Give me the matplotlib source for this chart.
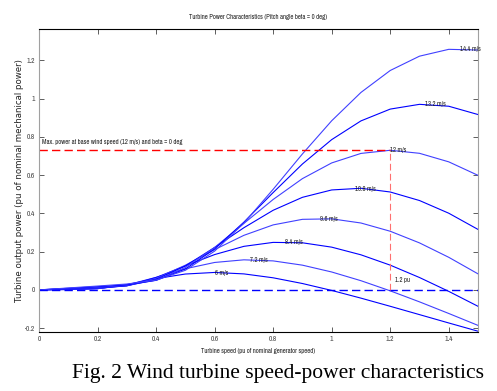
import matplotlib
matplotlib.use('Agg')
import matplotlib.pyplot as plt
from matplotlib import font_manager
import numpy as np

# turbine speed (pu of nominal generator speed)
speed = [0.0, 0.1, 0.2, 0.3, 0.4, 0.5, 0.6, 0.7, 0.8, 0.9, 1.0, 1.1, 1.2, 1.3, 1.4, 1.5]

# output power (pu) for each wind speed
p_6 = [0, 0.0017, 0.0064, 0.0277, 0.0591, 0.0830, 0.0913, 0.0837, 0.0633, 0.0334,
       -0.0028, -0.0431, -0.0857, -0.1293, -0.1730, -0.2161]
p_72 = [0, 0.0025, 0.0064, 0.0254, 0.0658, 0.1106, 0.1435, 0.1573, 0.1517, 0.1294,
        0.0937, 0.0481, -0.0049, -0.0625, -0.1233, -0.1857]
p_84 = [0, 0.0034, 0.0074, 0.0226, 0.0648, 0.1255, 0.1848, 0.2278, 0.2485, 0.2464,
        0.2236, 0.1835, 0.1295, 0.0648, -0.0077, -0.0858]
p_96 = [0, 0.0045, 0.0091, 0.0211, 0.0601, 0.1292, 0.2107, 0.2854, 0.3400, 0.3691,
        0.3717, 0.3499, 0.3068, 0.2459, 0.1705, 0.0839]
p_108 = [0, 0.0057, 0.0114, 0.0215, 0.0550, 0.1251, 0.2220, 0.3252, 0.4165, 0.4842,
         0.5228, 0.5316, 0.5121, 0.4675, 0.4011, 0.3163]
p_12 = [0, 0.0070, 0.0140, 0.0234, 0.0512, 0.1174, 0.2219, 0.3477, 0.4730, 0.5820,
        0.6641, 0.7139, 0.7303, 0.7145, 0.6698, 0.5992]
p_132 = [0, 0.0085, 0.0169, 0.0267, 0.0499, 0.1092, 0.2142, 0.3544, 0.5091, 0.6585,
         0.7860, 0.8840, 0.9457, 0.9706, 0.9607, 0.9172]
p_144 = [0, 0.0101, 0.0201, 0.0308, 0.0509, 0.1025, 0.2029, 0.3495, 0.5261, 0.7111,
         0.8846, 1.0328, 1.1476, 1.2225, 1.2583, 1.2546]

curves = [p_6, p_72, p_84, p_96, p_108, p_12, p_132, p_144]
labels = ['6 m/s', '7.2 m/s', '8.4 m/s', '9.6 m/s', '10.8 m/s', '12 m/s', '13.2 m/s', '14.4 m/s']
# where each label sits (peak of curve)
label_x = [0.60, 0.72, 0.84, 0.96, 1.08, 1.20, 1.32, 1.44]
label_y = [0.088, 0.157, 0.249, 0.371, 0.530, 0.730, 0.970, 1.262]

p_max = 0.73
s_base = 1.2

# look for a condensed sans face, the original uses a narrow font
narrow_name = None
for f in font_manager.fontManager.ttflist:
    if 'Narrow' in f.name or 'Condensed' in f.name:
        narrow_name = f.name
        break

narrow = [narrow_name, 'DejaVu Sans'] if narrow_name else ['DejaVu Sans']
nstretch = 'condensed'
small = 4.8

fig = plt.figure(figsize=(4.97, 3.91), dpi=100)
ax = fig.add_axes([0.0785, 0.151, 0.8833, 0.775])

cols = ['#0000ff', '#4040ff']
for i, p in enumerate(curves):
    ax.plot(speed, p, color=cols[i % 2], lw=0.8)
    ax.text(label_x[i], label_y[i], labels[i], fontsize=small, family=narrow,
            stretch=nstretch, ha='left', va='center', color='#222222')

# zero line and base wind speed markers
ax.plot([0, 1.5], [0, 0], color='blue', lw=1.0, dashes=(6, 3))
ax.plot([0, s_base], [p_max, p_max], color='red', lw=1.0, dashes=(6, 3))
ax.plot([s_base, s_base], [0, p_max], color='#ff7070', lw=0.8, dashes=(6, 3))
ax.text(0.01, 0.775, 'Max. power at base wind speed (12 m/s) and beta = 0 deg',
        fontsize=small, family=narrow, stretch=nstretch, ha='left', va='center', color='#222222')
ax.text(1.215, 0.052, '1.2 pu', fontsize=small, family=narrow, stretch=nstretch, ha='left',
        va='center', color='#222222')

ax.set_xlim(0, 1.5)
ax.set_ylim(-0.22, 1.365)
ax.set_xticks([0, 0.2, 0.4, 0.6, 0.8, 1, 1.2, 1.4])
ax.set_xticklabels(['0', '0.2', '0.4', '0.6', '0.8', '1', '1.2', '1.4'])
ax.set_yticks([-0.2, 0, 0.2, 0.4, 0.6, 0.8, 1, 1.2])
ax.set_yticklabels(['-0.2', '0', '0.2', '0.4', '0.6', '0.8', '1', '1.2'])
ax.tick_params(direction='in', length=3.5, width=0.6, top=True, right=True,
               labelsize=5.3, colors='#444444', pad=3)
for lab in ax.get_xticklabels() + ax.get_yticklabels():
    lab.set_family(narrow)
    lab.set_stretch(nstretch)

ax.spines['top'].set_color('black')
ax.spines['bottom'].set_color('black')
ax.spines['left'].set_color('#a0a0a0')
ax.spines['right'].set_color('#a0a0a0')
for sp in ax.spines.values():
    sp.set_linewidth(0.8)

ax.set_title('Turbine Power Characteristics (Pitch angle beta = 0 deg)',
             fontsize=small, family=narrow, stretch=nstretch, color='#222222', pad=7)
ax.set_xlabel('Turbine speed (pu of nominal generator speed)', fontsize=small,
              family=narrow, stretch=nstretch, color='#222222', labelpad=4)
ax.set_ylabel('Turbine output power (pu of nominal mechanical power)', fontsize=6.2,
              color='#222222')
ax.yaxis.set_label_coords(-0.035, 0.5)

fig.text(0.56, 0.045, 'Fig. 2 Wind turbine speed-power characteristics',
         fontsize=15.5, family=['Liberation Serif', 'DejaVu Serif'], ha='center', va='center')

fig.savefig('out.png', dpi=100)
